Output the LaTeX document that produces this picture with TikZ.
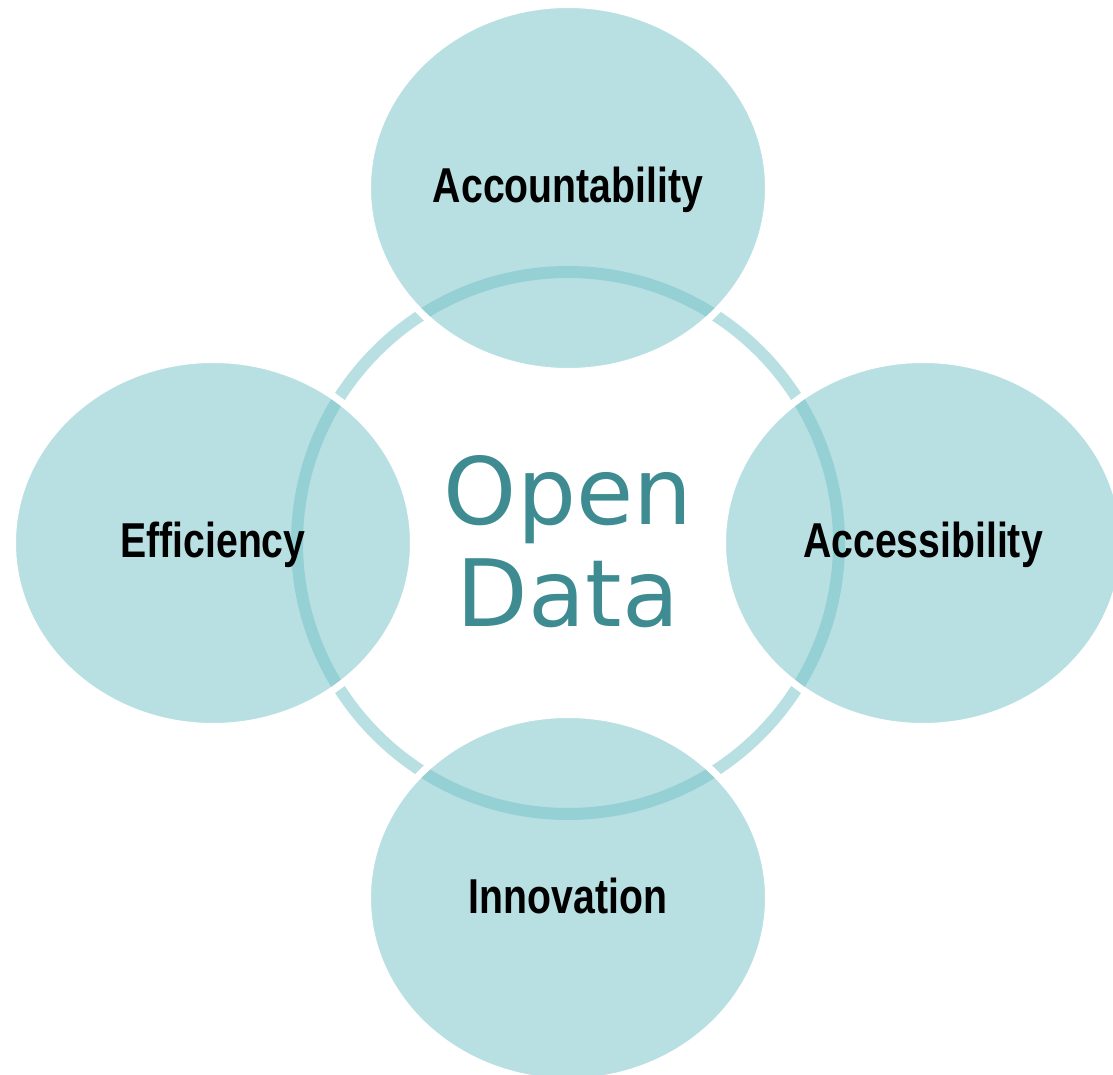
\documentclass[tikz,border=0pt]{standalone}
\usepackage{fontspec}
\usetikzlibrary{shapes.geometric}
\newfontfamily\labelfont{Liberation Sans}[FakeStretch=0.8]
\newfontfamily\titlefont{DejaVu Sans}
\definecolor{ringteal}{RGB}{184,224,227}
\definecolor{blobteal}{RGB}{113,193,199}
\definecolor{titleteal}{RGB}{62,140,146}
\tikzset{
  ring/.style={circle, minimum size=542pt, inner sep=0pt, draw=ringteal, line width=12pt},
  blob/.style={ellipse, minimum width=401pt, minimum height=367pt, inner sep=0pt,
    fill=blobteal, fill opacity=0.5, text opacity=1, draw=white, line width=7pt,
    font=\labelfont\bfseries\fontsize{49}{58}\selectfont, text height=30pt, text depth=0pt},
  title/.style={text=titleteal, align=center, font=\titlefont\fontsize{93}{102}\selectfont}
}
\begin{document}
\begin{tikzpicture}[x=1pt,y=1pt]
        \useasboundingbox (0,0) rectangle (1113,1074);
        \clip (0,0) rectangle (1113,1074);
        %Ring
        \node[ring] (ring) at (568,531) {};
        %Ellipses
        \foreach \x/\y/\n/\t in{
        568/886/account/Accountability, 213/531/effic/Efficiency, 923/531/access/Accessibility, 568/176/innov/Innovation
        }{\node[blob] (\n) at (\x,\y) {\t};}
        %Title
        \node[title, anchor=base] (opendata) at (568,447) {Open\\Data};
\end{tikzpicture}
\end{document}
